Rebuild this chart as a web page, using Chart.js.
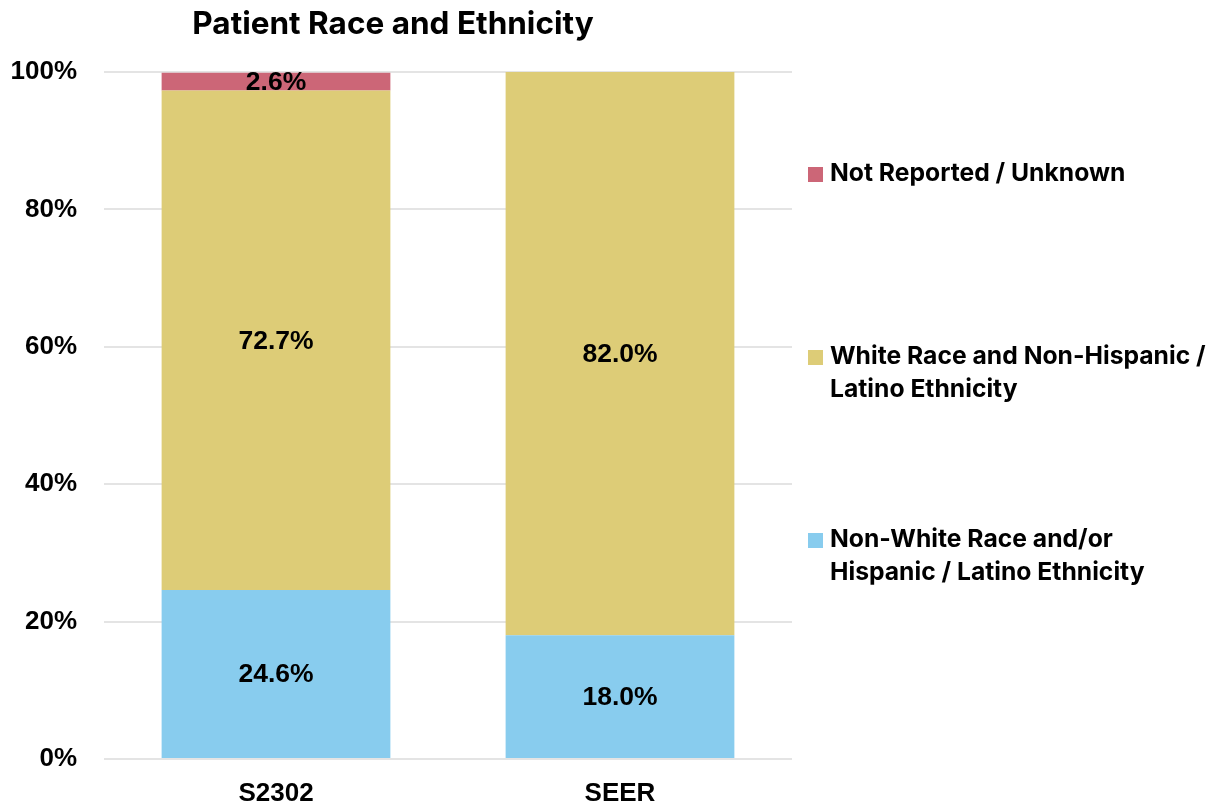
<!DOCTYPE html>
<html>
<head>
<meta charset="utf-8">
<script src="https://cdn.jsdelivr.net/npm/chart.js@4.4.1/dist/chart.umd.min.js"></script>
<style>
  html, body { margin: 0; padding: 0; background: #ffffff; }
  #wrap { position: relative; width: 1209px; height: 806px; }
</style>
</head>
<body>
<div id="wrap"><canvas id="c" width="1209" height="806"></canvas></div>
<script>
const chartTitle = "Patient Race and Ethnicity";
const categories = ["S2302", "SEER"];
const seriesNames = [
  "Non-White Race and/or Hispanic / Latino Ethnicity",
  "White Race and Non-Hispanic / Latino Ethnicity",
  "Not Reported / Unknown"
];
const legendLines = [
  ["Non-White Race and/or", "Hispanic / Latino Ethnicity"],
  ["White Race and Non-Hispanic /", "Latino Ethnicity"],
  ["Not Reported / Unknown"]
];
const nonWhiteValues = [24.6, 18.0];
const whiteValues = [72.7, 82.0];
const notReportedValues = [2.6, 0];
const seriesColors = ["#88CCEE", "#DDCC77", "#CC6677"];
const yTicks = [0, 20, 40, 60, 80, 100];

const LABEL_FONT = '"Liberation Sans", Arial, sans-serif';
const INTER = 'Inter, "Noto Sans", sans-serif';

const dataLabelPlugin = {
  id: 'dataLabels',
  afterDatasetsDraw(chart) {
    const ctx = chart.ctx;
    ctx.save();
    ctx.font = 'bold 26.5px ' + LABEL_FONT;
    ctx.fillStyle = '#000';
    ctx.textAlign = 'center';
    ctx.textBaseline = 'middle';
    chart.data.datasets.forEach((ds, di) => {
      const meta = chart.getDatasetMeta(di);
      meta.data.forEach((el, i) => {
        const v = ds.data[i];
        if (!v) return;
        const y = (el.y + el.base) / 2;
        ctx.fillText(v.toFixed(1) + '%', el.x, y + 1);
      });
    });
    ctx.restore();
  }
};

const titleLegendPlugin = {
  id: 'titleLegend',
  afterDraw(chart) {
    const ctx = chart.ctx;
    ctx.save();
    ctx.font = 'bold 31.5px ' + INTER;
    ctx.fillStyle = '#000';
    ctx.textAlign = 'center';
    ctx.textBaseline = 'middle';
    ctx.fillText(chartTitle, 393, 25);
    ctx.font = 'bold 24.7px ' + INTER;
    ctx.textAlign = 'left';
    const order = [2, 1, 0];
    const startY = 174, step = 183, lineH = 33;
    order.forEach((di, k) => {
      const y0 = startY + k * step;
      ctx.fillStyle = chart.data.datasets[di].backgroundColor;
      ctx.fillRect(808, y0 - 7, 15, 15);
      ctx.fillStyle = '#000';
      legendLines[di].forEach((line, li) => {
        ctx.fillText(line, 830, y0 + li * lineH);
      });
    });
    ctx.restore();
  }
};

const datasets = [nonWhiteValues, whiteValues, notReportedValues].map((vals, i) => ({
  label: seriesNames[i],
  data: vals,
  backgroundColor: seriesColors[i],
  borderWidth: 0,
  categoryPercentage: 1.0,
  barPercentage: 0.665
}));

new Chart(document.getElementById('c'), {
  type: 'bar',
  data: { labels: categories, datasets },
  options: {
    responsive: false,
    animation: false,
    layout: { padding: { top: 72, right: 417, left: 0, bottom: 0 } },
    plugins: {
      legend: { display: false },
      title: { display: false },
      tooltip: { enabled: false }
    },
    scales: {
      x: {
        stacked: true,
        grid: { display: false, drawTicks: false },
        border: { display: false },
        ticks: {
          color: '#000',
          font: { family: LABEL_FONT, weight: 'bold', size: 26 },
          padding: 19
        },
        afterFit(scale) { scale.height = 47; }
      },
      y: {
        stacked: true,
        min: 0,
        max: 100,
        afterBuildTicks(scale) { scale.ticks = yTicks.map(v => ({ value: v })); },
        grid: { color: '#e4e4e4', lineWidth: 2, drawTicks: false },
        border: { display: false },
        ticks: {
          color: '#000',
          font: { family: LABEL_FONT, weight: 'bold', size: 26 },
          padding: 27,
          callback: v => v + '%'
        },
        afterFit(scale) { scale.width = 104; }
      }
    }
  },
  plugins: [dataLabelPlugin, titleLegendPlugin]
});
</script>
</body>
</html>
